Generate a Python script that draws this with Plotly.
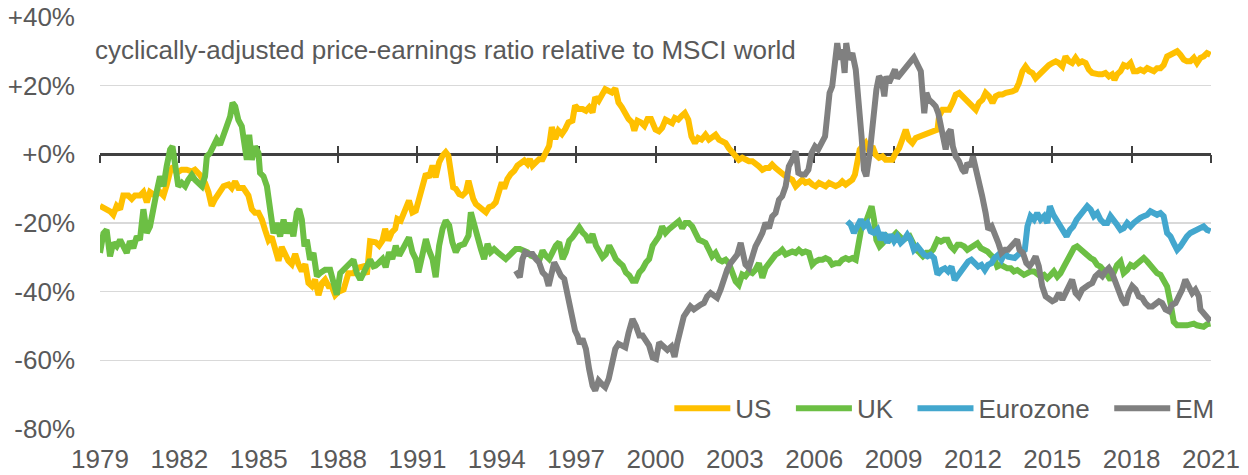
import plotly.graph_objects as go

# ---------------- data (decimal year, % relative CAPE) ----------------
us = [(1979.00,-15),(1979.19,-15.6),(1979.38,-16.6),(1979.50,-17.6),(1979.63,-15),(1979.76,-16),(1979.88,-12),
(1980.07,-12),(1980.20,-13),(1980.32,-12),(1980.51,-12),(1980.64,-11),(1980.77,-14),(1980.89,-11),(1981.08,-12),
(1981.27,-11),(1981.40,-12),(1981.52,-9),(1981.65,-5),(1981.77,-3.5),(1981.90,-5.4),(1982.09,-4.5),(1982.28,-4.5),
(1982.47,-5),(1982.59,-4.5),(1982.78,-6),(1982.97,-8.3),(1983.10,-11),(1983.22,-15),(1983.35,-13),(1983.54,-11),
(1983.67,-9.3),(1983.86,-8.8),(1983.98,-9.8),(1984.11,-7.9),(1984.23,-9.8),(1984.42,-9.8),(1984.61,-12),(1984.74,-16),
(1984.86,-17),(1984.99,-17),(1985.12,-19),(1985.24,-22),(1985.37,-25),(1985.49,-24),(1985.62,-28),(1985.75,-31),
(1985.87,-27),(1986.00,-29),(1986.12,-31),(1986.25,-32),(1986.38,-29),(1986.50,-32),(1986.63,-34),(1986.76,-32),
(1986.88,-37.5),(1987.01,-38.4),(1987.13,-36.5),(1987.26,-41),(1987.39,-37.5),(1987.51,-36.5),(1987.64,-38.4),
(1987.76,-38.4),(1987.89,-41),(1988.02,-40),(1988.21,-39.4),(1988.39,-34.6),(1988.58,-34.6),(1988.77,-33),
(1988.96,-32.6),(1989.09,-35),(1989.21,-25.3),(1989.42,-25.6),(1989.55,-26.6),(1989.68,-25.1),(1989.78,-21.7),
(1989.90,-25.1),(1990.03,-22.7),(1990.16,-21.7),(1990.24,-18.8),(1990.37,-19.3),(1990.50,-16.4),(1990.62,-15),
(1990.68,-13.5),(1990.81,-16.9),(1990.94,-16.4),(1991.06,-13),(1991.19,-10),(1991.32,-5.7),(1991.44,-6.7),
(1991.57,-3.3),(1991.69,-6.7),(1991.82,-2.3),(1991.95,-0.4),(1992.07,0.6),(1992.17,-0.4),(1992.26,-4.3),
(1992.35,-9.6),(1992.45,-10),(1992.58,-11.6),(1992.70,-12),(1992.83,-11),(1992.93,-7.7),(1993.02,-10.6),
(1993.11,-13),(1993.21,-14.5),(1993.33,-15.4),(1993.46,-16.4),(1993.59,-16.9),(1993.71,-15.4),(1993.84,-15),
(1993.96,-14),(1994.09,-11),(1994.19,-8.2),(1994.28,-10),(1994.40,-7.2),(1994.53,-5.7),(1994.66,-4.8),
(1994.78,-3.3),(1994.91,-2.3),(1995.04,-1.8),(1995.16,-2.8),(1995.25,-1.4),(1995.35,-3.3),(1995.48,-2.3),
(1995.60,-1.4),(1995.73,-1.4),(1995.85,0.6),(1995.98,2.5),(1996.08,7.9),(1996.21,4.5),(1996.33,6.9),
(1996.46,5.9),(1996.59,7.4),(1996.71,9.3),(1996.86,9.8),(1996.96,14.2),(1997.09,13.2),(1997.24,13.2),
(1997.37,12.7),(1997.49,13.7),(1997.62,12.2),(1997.72,16.6),(1997.85,15.6),(1997.97,17),(1998.10,19),
(1998.23,18.5),(1998.35,18),(1998.48,19.2),(1998.60,15.1),(1998.73,13.7),(1998.86,11.7),(1998.98,10.3),
(1999.11,9.3),(1999.20,6.9),(1999.32,9.8),(1999.45,9.3),(1999.58,8.3),(1999.70,10.3),(1999.83,10.3),
(2000.00,7.2),(2000.13,6.7),(2000.25,7.7),(2000.38,10.1),(2000.50,9.6),(2000.63,9.1),(2000.73,10.6),
(2000.86,10.1),(2000.98,11.1),(2001.11,12),(2001.24,10.1),(2001.36,5.2),(2001.49,3.3),(2001.61,4.8),
(2001.74,4.3),(2001.89,5.7),(2002.02,4.3),(2002.14,5.2),(2002.27,5.7),(2002.40,4.3),(2002.52,3.8),
(2002.65,3.3),(2002.77,1.8),(2002.90,0.4),(2003.03,-0.6),(2003.15,-1.6),(2003.28,-1),(2003.40,-1.6),
(2003.53,-2),(2003.66,-2),(2003.78,-2.5),(2003.91,-3.5),(2004.04,-4.5),(2004.16,-4),(2004.29,-4),
(2004.41,-3),(2004.54,-4),(2004.67,-5),(2004.79,-5.9),(2004.92,-6.4),(2005.04,-6.9),(2005.17,-7.4),
(2005.30,-9.3),(2005.42,-8.3),(2005.55,-7.4),(2005.67,-8.3),(2005.80,-7.9),(2005.93,-8.8),(2006.05,-9.3),
(2006.18,-8.3),(2006.31,-8.8),(2006.43,-9.3),(2006.56,-8.3),(2006.68,-8.8),(2006.81,-9.3),(2006.94,-8.8),
(2007.06,-7.9),(2007.19,-8.8),(2007.31,-7.9),(2007.44,-7.4),(2007.54,-5.9),(2007.63,-2.5),(2007.72,1.4),
(2007.82,2.3),(2007.94,3.3),(2008.07,0.9),(2008.20,2.3),(2008.32,-0.1),(2008.45,-1),(2008.58,-0.6),
(2008.70,-1.6),(2008.83,-1.6),(2008.95,-1.6),(2009.08,0.4),(2009.21,1.8),(2009.33,4.3),(2009.46,7.2),
(2009.58,4.3),(2009.71,3.3),(2009.84,4.8),(2009.96,5.2),(2010.09,5.7),(2010.21,5.7),(2010.34,6.2),
(2010.47,6.7),(2010.66,7.2),(2010.72,11.1),(2010.85,13),(2010.97,13),(2011.10,13),(2011.23,15),(2011.35,17.4),
(2011.48,17.9),(2011.60,16.9),(2011.73,15.9),(2011.86,15),(2011.98,13.5),(2012.11,13),(2012.23,15),
(2012.36,15.9),(2012.48,17.9),(2012.61,16.9),(2012.74,15),(2012.86,16.9),(2012.99,17.4),(2013.11,17.4),
(2013.24,17.9),(2013.36,17.9),(2013.49,18.3),(2013.62,18.8),(2013.74,20.8),(2013.87,24.2),(2013.99,25.6),
(2014.12,24.2),(2014.25,23.7),(2014.37,22.2),(2014.50,23.3),(2014.62,24.2),(2014.75,25.1),(2014.87,26),
(2015.00,26.6),(2015.13,27.1),(2015.25,26.6),(2015.38,25.6),(2015.50,28.5),(2015.63,27.1),(2015.75,26.6),
(2015.88,28.1),(2016.01,26.6),(2016.13,27.1),(2016.26,26.6),(2016.38,24.7),(2016.51,23.7),(2016.64,23.3),
(2016.76,23.3),(2016.89,23.3),(2017.01,23.7),(2017.14,22.7),(2017.26,23.3),(2017.35,21.7),(2017.45,23.3),
(2017.58,24.2),(2017.70,26),(2017.83,25.6),(2017.96,26.6),(2018.08,24.2),(2018.21,24.2),(2018.33,24.7),
(2018.46,24.2),(2018.59,25.1),(2018.71,24.7),(2018.84,24.2),(2018.96,25.1),(2019.09,25.1),(2019.21,26),
(2019.34,28.5),(2019.47,29),(2019.59,29.5),(2019.72,30),(2019.84,29),(2019.97,27.6),(2020.09,27.1),
(2020.22,27.1),(2020.35,28.1),(2020.47,26.6),(2020.60,28.1),(2020.72,28.5),(2020.85,29.5),(2020.98,29)]

uk = [(1979.00,-28.7),(1979.13,-23),(1979.25,-22),(1979.38,-29.7),(1979.50,-25.8),(1979.63,-26.8),(1979.76,-24.9),
(1979.88,-26.8),(1980.01,-28.7),(1980.13,-25.3),(1980.26,-27.3),(1980.39,-23.9),(1980.51,-24.9),(1980.64,-16),
(1980.77,-22.9),(1980.89,-21),(1981.02,-15),(1981.14,-11),(1981.27,-6.4),(1981.40,-9.3),(1981.52,-3.5),
(1981.65,1.4),(1981.74,2.3),(1981.84,-3.5),(1981.96,-9.3),(1982.09,-8.3),(1982.22,-9.3),(1982.34,-7.4),
(1982.47,-6),(1982.59,-7.4),(1982.72,-8.3),(1982.85,-9.3),(1982.97,-6.4),(1983.04,-0.6),(1983.16,0.4),
(1983.29,2.3),(1983.41,4.3),(1983.54,2.8),(1983.67,6.2),(1983.79,8.2),(1983.92,11),(1984.01,15),(1984.11,14),
(1984.23,10),(1984.36,8.2),(1984.49,2.3),(1984.55,-1.6),(1984.64,5.7),(1984.74,-1.6),(1984.86,2.3),
(1984.99,0.4),(1985.05,-5.4),(1985.18,-6.4),(1985.31,-9.3),(1985.43,-15),(1985.56,-23),(1985.68,-20),
(1985.81,-23.9),(1985.94,-19),(1986.06,-23),(1986.19,-20),(1986.31,-23.9),(1986.44,-17),(1986.53,-16),
(1986.63,-19),(1986.73,-26.8),(1986.82,-24.9),(1986.94,-30.7),(1987.07,-28.7),(1987.20,-35.5),(1987.32,-34.6),
(1987.51,-33.6),(1987.70,-33.6),(1987.83,-37.5),(1987.95,-40.9),(1988.08,-34.6),(1988.21,-33.6),(1988.33,-32.6),
(1988.46,-31.7),(1988.58,-30.7),(1988.71,-34.6),(1988.84,-36.5),(1988.96,-34.6),(1989.09,-33),(1989.21,-30.7),
(1989.34,-32.6),(1989.42,-32.4),(1989.55,-31.5),(1989.68,-30.5),(1989.80,-32.9),(1989.93,-28.5),(1990.05,-30.5),
(1990.18,-26.6),(1990.31,-29.5),(1990.43,-27.6),(1990.56,-26.1),(1990.68,-24.2),(1990.81,-28.5),(1990.94,-30.5),
(1991.04,-34.4),(1991.16,-29.5),(1991.32,-24.7),(1991.44,-28),(1991.57,-30.5),(1991.69,-35.8),(1991.82,-26.6),
(1991.95,-21.7),(1992.07,-19.3),(1992.20,-20.7),(1992.32,-25.6),(1992.45,-28.5),(1992.58,-26.6),(1992.77,-26.1),
(1992.93,-23.7),(1993.02,-16.9),(1993.14,-20.7),(1993.27,-24.7),(1993.40,-27.6),(1993.52,-30.5),(1993.65,-26.1),
(1993.77,-28.5),(1993.90,-27.6),(1994.03,-28.5),(1994.19,-29.5),(1994.34,-30.5),(1994.47,-29.5),(1994.59,-28.5),
(1994.72,-27.6),(1994.87,-27.6),(1995.04,-28),(1995.16,-28.5),(1995.29,-29.5),(1995.45,-30),(1995.60,-31),
(1995.73,-28),(1995.85,-29.5),(1995.98,-30.5),(1996.11,-28.5),(1996.23,-26.6),(1996.36,-25.6),(1996.49,-30.5),
(1996.61,-28.5),(1996.74,-25.1),(1996.86,-24.2),(1996.99,-22.7),(1997.12,-21.3),(1997.24,-22.7),(1997.37,-23.7),
(1997.49,-25.6),(1997.62,-23.2),(1997.75,-26.6),(1997.87,-28.5),(1998.00,-30),(1998.12,-29.1),(1998.25,-26.6),
(1998.38,-28.5),(1998.50,-30.5),(1998.63,-31.5),(1998.76,-32.4),(1998.88,-34.4),(1999.01,-35.3),(1999.13,-36.8),
(1999.26,-36.8),(1999.39,-34.4),(1999.51,-33.4),(1999.64,-31.5),(1999.76,-30.5),(1999.89,-26.6),(2000.02,-25.1),
(2000.13,-23.9),(2000.25,-21),(2000.38,-22.9),(2000.50,-21.9),(2000.63,-21),(2000.76,-20.5),(2000.88,-19.5),
(2001.01,-21.5),(2001.13,-20),(2001.26,-20),(2001.39,-21),(2001.51,-22.9),(2001.64,-24.9),(2001.77,-25.3),
(2001.89,-25.8),(2002.02,-27.8),(2002.14,-29.7),(2002.27,-28.7),(2002.40,-30.7),(2002.52,-31.2),(2002.65,-30.7),
(2002.77,-31.7),(2002.90,-34.1),(2003.03,-37),(2003.15,-38),(2003.28,-35),(2003.40,-35.5),(2003.53,-34.1),
(2003.66,-34.6),(2003.78,-33.6),(2003.91,-31.7),(2004.04,-36),(2004.16,-33.1),(2004.29,-31.7),(2004.41,-30.2),
(2004.54,-29.2),(2004.67,-28.7),(2004.79,-27.8),(2004.92,-29.2),(2005.04,-28.7),(2005.17,-28.3),(2005.30,-28.7),
(2005.42,-27.8),(2005.55,-28.7),(2005.67,-28.3),(2005.80,-28.7),(2005.93,-32.1),(2006.05,-31.2),(2006.18,-30.7),
(2006.31,-30.7),(2006.43,-30.2),(2006.56,-30.7),(2006.68,-32.1),(2006.81,-31.7),(2006.94,-31.7),(2007.06,-30.7),
(2007.19,-30.2),(2007.31,-30.7),(2007.44,-30.2),(2007.57,-30.7),(2007.67,-26.8),(2007.76,-22.9),(2007.84,-19),
(2007.94,-20),(2008.07,-17.1),(2008.17,-15.1),(2008.26,-19),(2008.35,-24.9),(2008.47,-26.8),(2008.60,-25.8),
(2008.73,-23.9),(2008.85,-24.9),(2008.98,-23.9),(2009.10,-22.9),(2009.23,-23.9),(2009.36,-24.9),(2009.48,-24.4),
(2009.61,-23.9),(2009.73,-25.8),(2009.86,-27.8),(2009.99,-28.7),(2010.11,-29.7),(2010.24,-28.7),(2010.37,-28.7),
(2010.49,-27.8),(2010.66,-24.9),(2010.79,-25.4),(2010.91,-24.9),(2011.04,-24.9),(2011.16,-26.8),(2011.29,-27.8),
(2011.42,-26.3),(2011.54,-26.3),(2011.67,-26.8),(2011.79,-27.8),(2011.92,-27.3),(2012.04,-26.8),(2012.17,-25.9),
(2012.30,-27.3),(2012.42,-27.8),(2012.55,-28.3),(2012.67,-29.3),(2012.80,-30.2),(2012.92,-32.7),(2013.05,-32.2),
(2013.18,-32.7),(2013.30,-33.2),(2013.43,-33.2),(2013.55,-34.1),(2013.68,-33.7),(2013.81,-34.6),(2013.93,-35.1),
(2014.06,-34.6),(2014.18,-34.1),(2014.31,-34.1),(2014.43,-35.1),(2014.56,-35.6),(2014.69,-35.1),(2014.81,-36.1),
(2014.94,-35.1),(2015.06,-34.1),(2015.19,-35.6),(2015.31,-34.6),(2015.44,-32.7),(2015.57,-30.7),(2015.69,-29.8),
(2015.82,-27.3),(2015.94,-26.8),(2016.07,-27.8),(2016.20,-28.8),(2016.32,-29.3),(2016.45,-30.2),(2016.57,-30.7),
(2016.70,-32.2),(2016.82,-32.7),(2016.95,-33.7),(2017.08,-35.1),(2017.20,-36.6),(2017.33,-34.6),(2017.45,-32.2),
(2017.58,-31.2),(2017.70,-34.6),(2017.83,-33.7),(2017.96,-32.2),(2018.08,-32.7),(2018.21,-31.7),(2018.33,-30.7),
(2018.46,-30.2),(2018.59,-31.2),(2018.71,-32.2),(2018.84,-33.7),(2018.96,-34.6),(2019.09,-35.1),(2019.21,-36.6),
(2019.34,-38.5),(2019.47,-43.4),(2019.59,-48.8),(2019.72,-49.8),(2019.84,-50),(2019.97,-49.8),(2020.09,-49.8),
(2020.22,-49.5),(2020.35,-49.3),(2020.47,-49.8),(2020.60,-50),(2020.72,-50.2),(2020.85,-49.5),(2020.98,-49.3)]

eurozone = [(2007.25,-19.5),(2007.38,-20.5),(2007.50,-22.9),(2007.63,-20.5),(2007.76,-19),(2007.88,-21),
(2008.01,-20),(2008.13,-22.4),(2008.26,-22.9),(2008.39,-21.9),(2008.51,-24.9),(2008.64,-22.9),(2008.76,-25.8),
(2008.89,-23.4),(2009.02,-25.3),(2009.14,-23.9),(2009.27,-25.8),(2009.39,-24.9),(2009.52,-23.4),(2009.65,-24.9),
(2009.77,-27.8),(2009.90,-26.8),(2010.03,-28.3),(2010.15,-29.2),(2010.28,-29.7),(2010.40,-29.2),(2010.53,-30.2),
(2010.66,-35),(2010.81,-33.7),(2010.94,-33.2),(2011.06,-34.1),(2011.19,-32.7),(2011.31,-36.6),(2011.44,-35.1),
(2011.57,-33.7),(2011.69,-32.2),(2011.82,-31.2),(2011.94,-30.7),(2012.07,-31.7),(2012.20,-32.7),(2012.32,-32.2),
(2012.45,-33.7),(2012.57,-32.2),(2012.70,-31.7),(2012.82,-30.2),(2012.95,-29.3),(2013.08,-30.7),(2013.20,-28.8),
(2013.33,-29.8),(2013.45,-30.2),(2013.58,-30.2),(2013.70,-29.3),(2013.83,-28.3),(2013.96,-27.8),(2014.06,-21),
(2014.18,-18),(2014.31,-19),(2014.43,-17.1),(2014.56,-19),(2014.69,-18),(2014.81,-20),(2014.91,-15.1),
(2015.04,-17.6),(2015.16,-19),(2015.29,-21),(2015.42,-22),(2015.54,-23.9),(2015.67,-22),(2015.79,-21),
(2015.92,-19),(2016.04,-18),(2016.20,-16.1),(2016.32,-15.1),(2016.45,-16.1),(2016.57,-18),(2016.70,-17.1),
(2016.82,-19),(2016.95,-20),(2017.08,-20),(2017.20,-18),(2017.33,-19),(2017.45,-20.5),(2017.58,-22),
(2017.70,-21.5),(2017.83,-20),(2017.96,-21),(2018.08,-20),(2018.21,-19),(2018.33,-18.5),(2018.46,-18),
(2018.59,-17.6),(2018.71,-16.6),(2018.84,-17.1),(2018.96,-17.6),(2019.09,-17.1),(2019.21,-18),(2019.34,-22.9),
(2019.47,-23.9),(2019.59,-25.9),(2019.72,-27.8),(2019.84,-26.8),(2019.97,-24.9),(2020.09,-23.9),(2020.22,-22.9),
(2020.35,-22.4),(2020.47,-22),(2020.60,-21.5),(2020.72,-21),(2020.85,-22),(2020.98,-22.4)]

em = [(1994.72,-33.9),(1994.87,-35.8),(1994.97,-30.5),(1995.07,-28.5),(1995.20,-29),(1995.35,-29),(1995.48,-30.5),
(1995.60,-31.5),(1995.73,-34.4),(1995.85,-35.3),(1995.96,-38.3),(1996.04,-35.3),(1996.17,-31.5),(1996.30,-33.4),
(1996.42,-35.3),(1996.55,-36.3),(1996.67,-41.2),(1996.76,-44.1),(1996.86,-48.9),(1996.96,-51.4),(1997.05,-52.8),
(1997.14,-55.2),(1997.24,-53.7),(1997.37,-56.7),(1997.49,-62.5),(1997.62,-67.4),(1997.72,-68.8),(1997.85,-65.9),
(1997.97,-66.9),(1998.10,-67.8),(1998.23,-65.4),(1998.35,-61.6),(1998.48,-56.7),(1998.60,-55.2),(1998.73,-55.7),
(1998.86,-56.2),(1998.98,-52),(1999.13,-48),(1999.26,-50),(1999.39,-52.8),(1999.51,-52.8),(1999.64,-54.2),
(1999.76,-55.7),(1999.89,-59.2),(2000.02,-59.6),(2000.14,-54.8),(2000.30,-56),(2000.45,-57),(2000.60,-56),
(2000.72,-59),(2000.82,-55),(2000.95,-50.1),(2001.07,-47.2),(2001.20,-45.7),(2001.32,-44.3),(2001.45,-45.2),
(2001.58,-44.3),(2001.70,-43.8),(2001.83,-43.3),(2001.95,-41.4),(2002.08,-40.4),(2002.21,-41.4),(2002.33,-41.8),
(2002.46,-39.4),(2002.59,-35.5),(2002.71,-33.6),(2002.84,-31.7),(2002.96,-30.7),(2003.09,-29.2),(2003.22,-25.8),
(2003.30,-28.7),(2003.40,-32.1),(2003.53,-33.1),(2003.66,-29.7),(2003.78,-26.8),(2003.91,-24.9),(2004.04,-22.9),
(2004.16,-20),(2004.29,-21.5),(2004.41,-18.1),(2004.54,-17.1),(2004.67,-13.2),(2004.79,-12.2),(2004.92,-9.3),
(2005.04,-3.5),(2005.17,-1.6),(2005.30,0.9),(2005.40,-5.4),(2005.52,-5.9),(2005.65,-5.9),(2005.78,-4.5),
(2005.90,0.4),(2006.03,2.3),(2006.15,1.4),(2006.28,3.3),(2006.41,5.2),(2006.49,11.1),(2006.58,17.9),
(2006.68,19.8),(2006.77,26.6),(2006.87,32.4),(2006.96,27.6),(2007.06,30.5),(2007.15,23.7),(2007.21,32.4),
(2007.31,27.6),(2007.44,29.5),(2007.57,24.7),(2007.69,15.9),(2007.79,5.2),(2007.88,-4.5),(2007.97,-6.4),
(2008.10,0.4),(2008.22,11.1),(2008.35,18.8),(2008.45,22.7),(2008.55,21.7),(2008.65,16.9),(2008.73,22.7),
(2008.83,20.8),(2008.95,23.7),(2009.05,24.7),(2009.14,22.2),(2009.27,23.3),(2009.39,24.7),(2009.52,25.6),
(2009.65,27.1),(2009.77,28.2),(2009.90,25.6),(2010.03,24.2),(2010.09,18.3),(2010.16,12),(2010.24,17.9),
(2010.34,15.9),(2010.47,15),(2010.59,14),(2010.69,12),(2010.78,7.2),(2010.87,5.2),(2010.97,1.4),(2011.07,6.2),
(2011.16,7.2),(2011.24,2.3),(2011.35,-0.6),(2011.47,-2),(2011.60,-4.5),(2011.70,-5.4),(2011.79,-2.5),
(2011.91,-3.5),(2012.00,-0.6),(2012.10,-3.5),(2012.23,-8.3),(2012.35,-12.2),(2012.48,-17.1),(2012.58,-21.9),
(2012.71,-21),(2012.83,-22.9),(2012.96,-25.8),(2013.08,-28.7),(2013.21,-27.8),(2013.33,-27.8),(2013.46,-26.8),
(2013.59,-25.8),(2013.67,-24.9),(2013.76,-27.8),(2013.89,-28.7),(2014.02,-31.7),(2014.14,-32.6),(2014.27,-31.2),
(2014.37,-29.7),(2014.49,-32.6),(2014.62,-38.4),(2014.75,-41.4),(2014.87,-42.3),(2015.00,-42.8),(2015.12,-42.3),
(2015.25,-40.4),(2015.38,-42.3),(2015.50,-40.4),(2015.63,-38.4),(2015.75,-36.5),(2015.88,-40.4),(2016.00,-41.4),
(2016.13,-39.4),(2016.26,-38.4),(2016.38,-38),(2016.51,-37.5),(2016.63,-35.5),(2016.76,-34.6),(2016.89,-35.5),
(2017.01,-34.1),(2017.14,-33.1),(2017.26,-34.6),(2017.39,-37.5),(2017.52,-40.4),(2017.64,-42.3),(2017.77,-43.8),
(2017.89,-40.4),(2018.02,-38.4),(2018.15,-39.4),(2018.27,-41.4),(2018.40,-41.8),(2018.52,-43.3),(2018.65,-44.3),
(2018.78,-44.3),(2018.90,-43.3),(2019.03,-42.8),(2019.15,-43.3),(2019.28,-45.2),(2019.41,-45.7),(2019.53,-43.8),
(2019.66,-43.3),(2019.78,-41.4),(2019.91,-39.4),(2020.03,-36.5),(2020.16,-38.4),(2020.29,-40.4),(2020.41,-39.4),
(2020.54,-41.4),(2020.60,-45.2),(2020.73,-46.2),(2020.85,-47.2),(2020.98,-48.6)]

series_names = ["US", "UK", "Eurozone", "EM"]
series_data = [us, uk, eurozone, em]
series_colors = ["#FFC000", "#6CBF44", "#43A7CE", "#808080"]
series_xaxis = ["x", "x", "x2", "x3"]   # overlay axes carry the crossing tick marks

x_ticks = list(range(1979, 2022, 3))
x_labels = [str(v) for v in x_ticks]
y_ticks = [-80, -60, -40, -20, 0, 20, 40]
y_labels = ["-80%", "-60%", "-40%", "-20%", "+0%", "+20%", "+40%"]
title_text = "cyclically-adjusted price-earnings ratio relative to MSCI world"

# ---------------- figure ----------------
FONT = "Liberation Sans, Arial, sans-serif"
TXT = "#595959"
AX = "#404040"
NB = "\u00a0"

fig = go.Figure()
for name, data, col, xa in zip(series_names, series_data, series_colors, series_xaxis):
    fig.add_trace(go.Scatter(
        x=[p[0] for p in data], y=[p[1] for p in data],
        mode="lines", name=name + NB * 2, xaxis=xa, yaxis="y",
        line=dict(color=col, width=6),
        hoverinfo="skip",
    ))

y_min, y_max = -80, 40
x_min, x_max = 1979, 2021
zero_pos = (0 - y_min) / (y_max - y_min)

tick_axis = dict(overlaying="x", anchor="free", position=zero_pos, range=[x_min, x_max],
                 tickmode="array", tickvals=x_ticks, showticklabels=False,
                 ticklen=8, tickwidth=2, tickcolor=AX, showline=False,
                 showgrid=False, zeroline=False, layer="below traces", automargin=False)

fig.update_layout(
    width=1248, height=475,
    margin=dict(l=100, r=37, t=17, b=46, autoexpand=False),
    paper_bgcolor="white", plot_bgcolor="white",
    font=dict(family=FONT, size=26, color=TXT),
    xaxis=dict(range=[x_min, x_max], tickmode="array", tickvals=x_ticks, ticktext=x_labels,
               showgrid=False, zeroline=False, showline=False, ticks="", automargin=False,
               ticklabelstandoff=12, tickfont=dict(size=26, color=TXT)),
    yaxis=dict(range=[y_min, y_max], tickmode="array", tickvals=y_ticks, ticktext=y_labels,
               showgrid=True, gridcolor="#D9D9D9", gridwidth=1.5,
               zeroline=True, zerolinecolor=AX, zerolinewidth=2.5,
               showline=False, ticks="", ticklabelstandoff=24, automargin=False,
               tickfont=dict(size=26, color=TXT)),
    xaxis2=dict(tick_axis, ticks="outside"),
    xaxis3=dict(tick_axis, ticks="inside"),
    legend=dict(orientation="h", x=1.021, xanchor="right", y=0.05, yanchor="middle",
                bgcolor="rgba(0,0,0,0)", font=dict(family=FONT, size=26, color=TXT),
                itemwidth=56, traceorder="normal", tracegroupgap=0),
    showlegend=True,
    annotations=[dict(text=title_text, xref="paper", yref="paper", x=-0.006, y=0.92,
                      xanchor="left", yanchor="middle", showarrow=False,
                      font=dict(family=FONT, size=26, color=TXT))],
)

fig.write_html("out.html", config={"displayModeBar": False, "staticPlot": True},
               post_script="document.body.style.margin='0';document.body.style.overflow='hidden';")
